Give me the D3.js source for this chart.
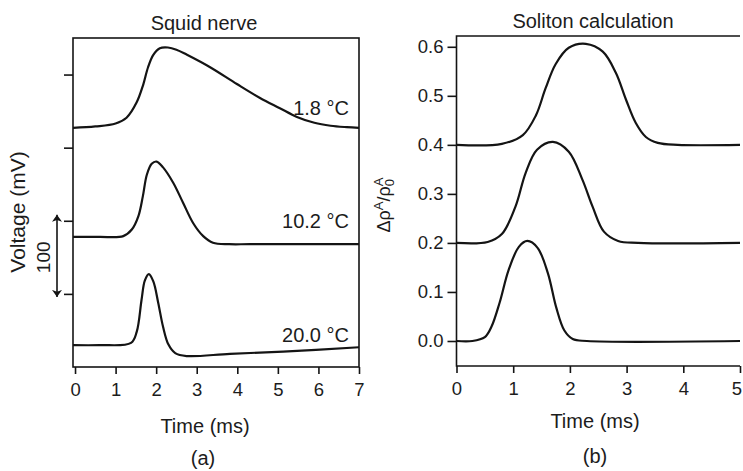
<!DOCTYPE html>
<html>
<head>
<meta charset="utf-8">
<script src="https://cdn.jsdelivr.net/npm/d3@7"></script>
<style>
  html, body { margin: 0; padding: 0; background: #fff; }
  svg { display: block; }
  text { font-family: "Liberation Sans", Arial, Helvetica, sans-serif; fill: #1c1c1c; }
</style>
</head>
<body>
<svg id="chart" width="743" height="471"></svg>
<script>
// ---- Panel (a): squid nerve action potentials, [time ms, voltage mV] ----
const timeTicksA = [0, 1, 2, 3, 4, 5, 6, 7];
const voltTicks = [100, 200, 300, 400];

const squid18 = [[-0.05,327],[0.5,329],[1.0,333],[1.27,341],[1.52,362],[1.68,386],[1.80,410],[1.93,427],
  [2.09,436],[2.29,437],[2.5,434],[2.76,427],[3.33,410],[3.99,387],[4.56,368],[5.05,354],
  [5.47,342],[5.9,334],[6.3,330],[6.7,328],[7.0,327]];
const squid102 = [[-0.05,178],[0.6,178],[1.19,179],[1.40,188],[1.56,206],[1.67,233],[1.77,263],[1.89,278],
  [2.01,281],[2.17,273],[2.42,252],[2.66,225],[2.91,197],[3.16,179],[3.40,170],[3.8,168],[4.31,168],[7.0,168]];
const squid200 = [[-0.05,30],[0.6,30],[1.38,33],[1.52,48],[1.64,92],[1.72,118],[1.82,127],[1.93,117],
  [2.05,88],[2.17,55],[2.30,31],[2.47,19],[2.75,15],[3.82,18],[5.13,21],[7.0,27]];
const squidLabels = ["1.8 °C", "10.2 °C", "20.0 °C"];

// ---- Panel (b): soliton calculation, [time ms, Δρ/ρ0] ----
const timeTicksB = [0, 1, 2, 3, 4, 5];
const densTicks = [0.0, 0.1, 0.2, 0.3, 0.4, 0.5, 0.6];

const soliton0 = [[0,0],[0.28,0],[0.5,0.008],[0.62,0.03],[0.76,0.078],[0.92,0.145],[1.10,0.192],[1.25,0.204],
  [1.43,0.19],[1.61,0.139],[1.76,0.068],[1.90,0.022],[2.05,0.004],[2.3,0],[5,0]];
const soliton1 = [[0,0.2],[0.55,0.202],[0.8,0.218],[1.04,0.274],[1.22,0.343],[1.42,0.39],[1.70,0.406],
  [1.98,0.386],[2.22,0.329],[2.40,0.274],[2.60,0.223],[2.85,0.204],[3.2,0.2],[5,0.2]];
const soliton2 = [[0,0.4],[0.8,0.402],[1.17,0.42],[1.40,0.46],[1.57,0.515],[1.75,0.565],
  [1.98,0.598],[2.28,0.606],[2.58,0.59],[2.81,0.547],[2.99,0.492],[3.16,0.445],[3.34,0.416],
  [3.55,0.404],[3.9,0.4],[5,0.4]];

const svg = d3.select("#chart");
const ink = "#141414";
const smooth = d3.curveCatmullRom.alpha(0.5);

// ================= Panel (a) =================
const ax = d3.scaleLinear().domain([-0.05, 7]).range([73, 359]);
const ay = d3.scaleLinear().domain([0, 450]).range([367, 38]);
const gA = svg.append("g");

// frame
gA.append("rect")
  .attr("x", ax(-0.05)).attr("y", ay(450))
  .attr("width", ax(7) - ax(-0.05)).attr("height", ay(0) - ay(450))
  .attr("fill", "none").attr("stroke", ink).attr("stroke-width", 1.6);

const axA = gA.append("g").attr("transform", `translate(0,${ay(0)})`)
  .call(d3.axisBottom(ax).tickValues(timeTicksA).tickSize(7).tickSizeOuter(0).tickPadding(9).tickFormat(d3.format("d")));
const ayA = gA.append("g").attr("transform", `translate(${ax(-0.05)},0)`)
  .call(d3.axisLeft(ay).tickValues(voltTicks).tickSize(9).tickSizeOuter(0).tickFormat(""));
[axA, ayA].forEach(g => {
  g.select(".domain").remove();
  g.selectAll(".tick line").attr("stroke", ink).attr("stroke-width", 1.6);
  g.selectAll(".tick text").attr("font-size", 18.5).attr("fill", "#1c1c1c");
});

const lineA = d3.line().x(d => ax(d[0])).y(d => ay(d[1])).curve(smooth);
[squid18, squid102, squid200].forEach(s => {
  gA.append("path").datum(s).attr("d", lineA)
    .attr("fill", "none").attr("stroke", ink).attr("stroke-width", 2.2).attr("stroke-linejoin", "round");
});

// temperature labels, anchored at the right edge above each trace
const labelY = [115, 228, 342];
squidLabels.forEach((t, i) => {
  gA.append("text").attr("x", 349).attr("y", labelY[i]).attr("text-anchor", "end")
    .attr("font-size", 20).text(t);
});

// 100 mV scale arrow
const defs = svg.append("defs");
defs.append("marker").attr("id", "ah")
  .attr("viewBox", "0 0 10 10").attr("refX", 10).attr("refY", 5)
  .attr("markerWidth", 7).attr("markerHeight", 10)
  .attr("markerUnits", "userSpaceOnUse")
  .attr("orient", "auto-start-reverse")
  .attr("preserveAspectRatio", "none")
  .append("path").attr("d", "M0,0 L10,5 L0,10 L2.5,5 Z").attr("fill", ink);
gA.append("line")
  .attr("x1", 57).attr("x2", 57)
  .attr("y1", ay(200) - 6).attr("y2", ay(100) + 3)
  .attr("stroke", ink).attr("stroke-width", 1.6)
  .attr("marker-start", "url(#ah)").attr("marker-end", "url(#ah)");
gA.append("text").attr("transform", `translate(43,${(ay(200) + ay(100)) / 2}) rotate(-90)`)
  .attr("text-anchor", "middle").attr("dominant-baseline", "central").attr("font-size", 19).text("100");

gA.append("text").attr("transform", "translate(17,212) rotate(-90)")
  .attr("text-anchor", "middle").attr("dominant-baseline", "central").attr("font-size", 21).text("Voltage (mV)");

gA.append("text").attr("x", 204).attr("y", 30).attr("text-anchor", "middle").attr("font-size", 20).text("Squid nerve");
gA.append("text").attr("x", 205).attr("y", 433).attr("text-anchor", "middle").attr("font-size", 20).text("Time (ms)");
gA.append("text").attr("x", 203).attr("y", 465).attr("text-anchor", "middle").attr("font-size", 20).text("(a)");

// ================= Panel (b) =================
const bx = d3.scaleLinear().domain([0, 5]).range([456.5, 740]);
const by = d3.scaleLinear().domain([-0.051, 0.622]).range([366, 36]);
const gB = svg.append("g");

// open frame: left, top and bottom rules
gB.append("path")
  .attr("d", `M${bx(5)},${by(0.622)} H${bx(0)} V${by(-0.051)} H${bx(5)}`)
  .attr("fill", "none").attr("stroke", ink).attr("stroke-width", 1.6);

const bxA = gB.append("g").attr("transform", `translate(0,${by(-0.051)})`)
  .call(d3.axisBottom(bx).tickValues(timeTicksB).tickSize(7).tickSizeOuter(0).tickPadding(9).tickFormat(d3.format("d")));
const byA = gB.append("g").attr("transform", `translate(${bx(0)},0)`)
  .call(d3.axisLeft(by).tickValues(densTicks).tickSize(9).tickSizeOuter(0).tickPadding(4).tickFormat(d3.format(".1f")));
[bxA, byA].forEach(g => {
  g.select(".domain").remove();
  g.selectAll(".tick line").attr("stroke", ink).attr("stroke-width", 1.6);
  g.selectAll(".tick text").attr("font-size", 18.5).attr("fill", "#1c1c1c");
});
// the last time label sits against the right edge
bxA.selectAll(".tick text").filter(d => d === 5).attr("dx", -3.5);

const lineB = d3.line().x(d => bx(d[0])).y(d => by(d[1])).curve(smooth);
[soliton0, soliton1, soliton2].forEach(s => {
  gB.append("path").datum(s).attr("d", lineB)
    .attr("fill", "none").attr("stroke", ink).attr("stroke-width", 2.2).attr("stroke-linejoin", "round");
});

// y label: Δρ^A / ρ_0^A
const yl = gB.append("text").attr("transform", "translate(390,205) rotate(-90)")
  .attr("text-anchor", "middle").attr("font-size", 18);
yl.append("tspan").text("Δρ");
yl.append("tspan").attr("font-size", 13).attr("dy", -7).text("A");
yl.append("tspan").attr("dy", 7).text("/ρ");
yl.append("tspan").attr("font-size", 13).attr("dy", 4).text("0");
yl.append("tspan").attr("font-size", 13).attr("dx", -7.2).attr("dy", -11).text("A");

gB.append("text").attr("x", 593).attr("y", 28).attr("text-anchor", "middle").attr("font-size", 20).text("Soliton calculation");
gB.append("text").attr("x", 595).attr("y", 428).attr("text-anchor", "middle").attr("font-size", 20).text("Time (ms)");
gB.append("text").attr("x", 595).attr("y", 463).attr("text-anchor", "middle").attr("font-size", 20).text("(b)");
</script>
</body>
</html>
